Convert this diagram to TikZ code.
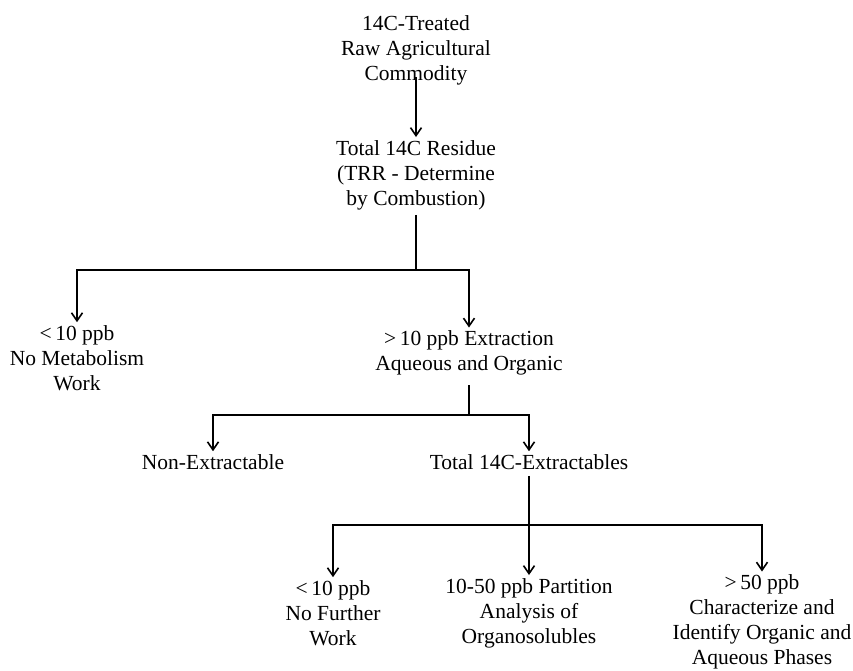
\documentclass[tikz,border=0pt]{standalone}
\usepackage{fontspec}
\setmainfont{Liberation Serif}
\usetikzlibrary{arrows.meta}
\begin{document}
\begin{tikzpicture}[x=1pt, y=-1pt,
    txt/.style={align=center, inner sep=0pt, font=\fontsize{21.5}{25}\selectfont},
    link/.style={line width=1.6pt},
    arr/.style={link, -{Straight Barb[length=8pt,width=11pt,line width=1.6pt]}, shorten >=3pt}]
    \useasboundingbox (0,0) rectangle (853,670);

    % Commodity and total residue
    \node[txt] (rac) at (416,50) {14C-Treated\\Raw Agricultural\\Commodity};
    \node[txt] (trr) at (416,175) {Total 14C Residue\\(TRR - Determine\\by Combustion)};
    \draw[arr] ([yshift=8pt]rac.south) -- (trr.north);

    % First split at 10 ppb
    \coordinate (s1) at (416,270);
    \node[txt] (low1) at (77,358) {<\,10 ppb\\No Metabolism\\Work};
    \node[txt] (ext) at (469,353) {>\,10 ppb Extraction\\Aqueous and Organic};
    \draw[link] ([yshift=-5pt]trr.south) -- (s1);
    \draw[arr] (s1) -| (low1.north);
    \draw[arr] (s1) -| (ext.north);

    % Extraction split
    \coordinate (s2) at (469,415);
    \node[txt] (nonext) at (213,462) {Non-Extractable};
    \node[txt] (totext) at (529,462) {Total 14C-Extractables};
    \draw[link] ([yshift=-10pt]ext.south) -- (s2);
    \draw[arr] (s2) -| (nonext.north);
    \draw[arr] (s2) -| (totext.north);

    % Final split of extractables
    \coordinate (s3) at (529,525);
    \node[txt] (low2) at (333,613) {<\,10 ppb\\No Further\\Work};
    \node[txt] (mid2) at (529,613) {10-50 ppb Partition\\Analysis of\\Organosolubles};
    \node[txt] (high2) at (762,622) {>\,50 ppb\\Characterize and\\Identify Organic and\\Aqueous Phases};
    \draw[link] ([yshift=-6pt]totext.south) -- (s3);
    \draw[arr] (s3) -| (low2.north);
    \draw[arr] (s3) -- (mid2.north);
    \draw[arr] (s3) -| (high2.north);
\end{tikzpicture}
\end{document}
